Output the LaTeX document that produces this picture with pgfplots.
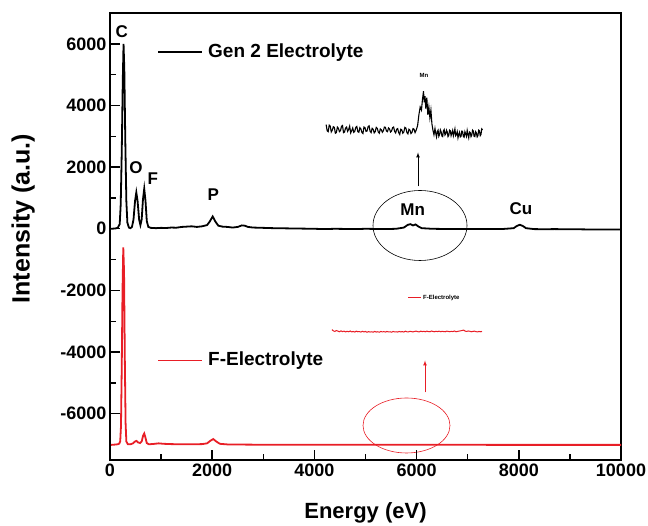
\documentclass[border=0pt]{standalone}
\usepackage{fontspec}
\setmainfont{Liberation Sans}
\usepackage{pgfplots}
\pgfplotsset{compat=1.18}
\definecolor{origred}{RGB}{232,30,38}
\newcommand{\fs}[1]{\fontsize{#1}{#1}\selectfont\bfseries}

\begin{document}
\begin{tikzpicture}
\useasboundingbox (-110pt,-66pt) rectangle (538pt,460pt);
% annotations, placed in the axis frame (0.0511 pt/eV, 0.030828 pt/count from -7500)
\draw[black, line width=1.8pt] (48.0pt,407.8pt) -- (91.7pt,407.8pt);
\node[anchor=west, inner sep=0pt, font=\fs{19}] at (98.0pt,407.8pt) {Gen 2 Electrolyte};
\draw[origred, line width=1.8pt] (48.0pt,99.5pt) -- (91.7pt,99.5pt);
\node[anchor=west, inner sep=0pt, font=\fs{19}] at (98.0pt,99.5pt) {F-Electrolyte};
\draw[origred, line width=0.6pt] (298.0pt,162.5pt) -- (311.0pt,162.5pt);
\node[anchor=west, inner sep=0pt, font=\fs{6}] at (313.0pt,162.5pt) {F-Electrolyte};
\node[font=\fs{6}] at (314.0pt,384.5pt) {Mn};
\node[font=\fs{17}] at (11.7pt,428.8pt) {C};
\node[font=\fs{17}] at (26.0pt,292.8pt) {O};
\node[font=\fs{17}] at (42.7pt,281.2pt) {F};
\node[font=\fs{17}] at (103.3pt,265.2pt) {P};
\node[font=\fs{17}] at (302.7pt,250.2pt) {Mn};
\node[font=\fs{17}] at (411.0pt,251.2pt) {Cu};
\draw[black, line width=0.6pt] (310.0pt,234.5pt) ellipse [x radius=47pt, y radius=35pt];
\draw[origred, line width=0.6pt] (296.5pt,34.5pt) ellipse [x radius=43.5pt, y radius=27.5pt];
\draw[black, line width=0.7pt, ->, >=latex] (308.0pt,273.5pt) -- (308.0pt,307.5pt);
\draw[origred, line width=0.7pt, ->, >=latex] (315.0pt,67.5pt) -- (315.0pt,99.5pt);
\begin{axis}[
  at={(0pt,0pt)}, anchor=south west,
  scale only axis, width=511pt, height=447pt,
  xmin=0, xmax=10000, ymin=-7500, ymax=7000,
  xtick={0,2000,...,10000}, minor xtick={1000,3000,...,9000},
  ytick={-6000,-4000,...,6000}, minor ytick={-7000,-5000,...,5000},
  xtick pos=bottom, ytick pos=left, xtick align=inside, ytick align=inside,
  major tick length=10pt, minor tick length=6pt,
  major tick style={line width=1.4pt, black},
  minor tick style={line width=1.4pt, black},
  axis line style={line width=1.6pt},
  scaled ticks=false,
  /pgf/number format/assume math mode=true,
  /pgf/number format/1000 sep={},
  tick label style={font=\fs{18}},
  xlabel={Energy (eV)}, ylabel={Intensity (a.u.)},
  xlabel style={font=\fs{22}, at={(axis description cs:0.5,-0.1186)}, anchor=center},
  ylabel style={font=\fs{25}, at={(axis description cs:-0.170,0.54)}, anchor=center},
]
% Gen 2 electrolyte spectrum
\addplot[black, line width=1.8pt] coordinates {
(20,0)(100,10)(150,30)(190,150)(210,800)(230,2500)(250,4800)(265,6000)(280,5200)
(300,2800)(320,900)(340,200)(370,40)(400,20)(430,60)(460,300)(490,900)(515,1180)
(540,900)(570,300)(595,120)(620,300)(645,950)(670,1300)(695,900)(720,250)(750,60)
(800,30)(900,20)(1000,30)(1100,25)(1200,40)(1300,35)(1400,60)(1500,70)(1600,80)
(1700,60)(1800,80)(1900,120)(1950,230)(2010,400)(2060,240)(2120,100)(2200,70)
(2300,60)(2400,40)(2500,60)(2580,110)(2640,100)(2700,60)(2800,40)(3000,30)
(3200,20)(3400,15)(3600,10)(3800,5)(4000,0)(4200,-10)(4400,0)(4600,-5)(4800,-10)
(5000,0)(5200,-5)(5400,-10)(5600,0)(5750,40)(5830,130)(5880,150)(5930,110)
(5980,140)(6030,80)(6100,20)(6300,0)(6500,-5)(6700,-10)(6900,-5)(7100,-5)
(7300,-10)(7500,-10)(7700,-5)(7900,20)(7960,90)(8020,130)(8080,90)(8140,20)
(8300,-10)(8500,-15)(8700,-10)(8900,-15)(9100,-15)(9300,-20)(9500,-20)(9700,-20)
(9900,-20)(10000,-20)
};
% F-electrolyte spectrum
\addplot[origred, line width=1.8pt] coordinates {
(20,-7010)(100,-7000)(150,-6990)(180,-6970)(200,-6900)(215,-6400)(230,-4500)
(245,-2000)(260,-600)(275,-1400)(290,-4200)(305,-6300)(320,-6900)(350,-6990)
(400,-6990)(450,-6960)(490,-6900)(520,-6880)(550,-6930)(590,-6950)(620,-6900)
(650,-6700)(670,-6640)(690,-6750)(720,-6950)(760,-6990)(850,-6980)(950,-6960)
(1050,-6975)(1200,-6985)(1400,-6990)(1600,-6990)(1800,-6985)(1900,-6960)
(1960,-6880)(2020,-6820)(2080,-6900)(2150,-6975)(2300,-6995)(2600,-7000)
(3000,-7005)(4000,-7005)(5000,-7008)(6000,-7005)(7000,-7008)(8000,-7010)
(9000,-7010)(10000,-7010)
};
% Mn inset (Gen 2)
\addplot[black, line width=1.1pt] coordinates {
(4230,3380)(4250,3180)(4270,3150)(4290,3360)(4310,3330)(4330,3140)(4350,3200)
(4370,3310)(4390,3290)(4410,3100)(4430,3120)(4450,3300)(4470,3260)(4490,3150)
(4510,3180)(4530,3320)(4550,3350)(4570,3120)(4590,3140)(4610,3270)(4630,3300)
(4650,3160)(4670,3220)(4690,3330)(4710,3110)(4730,3180)(4750,3270)(4770,3130)
(4790,3160)(4810,3290)(4830,3320)(4850,3150)(4870,3130)(4890,3280)(4910,3240)
(4930,3120)(4950,3090)(4970,3300)(4990,3280)(5010,3160)(5030,3170)(5050,3310)
(5070,3340)(5090,3160)(5110,3120)(5130,3260)(5150,3230)(5170,3110)(5190,3150)
(5210,3290)(5230,3260)(5250,3140)(5270,3100)(5290,3240)(5310,3210)(5330,3130)
(5350,3180)(5370,3300)(5390,3290)(5410,3170)(5430,3150)(5450,3270)(5470,3240)
(5490,3140)(5510,3170)(5530,3280)(5550,3300)(5570,3160)(5590,3110)(5610,3230)
(5630,3250)(5650,3120)(5670,3060)(5690,3230)(5710,3210)(5730,3100)(5750,3140)
(5770,3290)(5790,3270)(5810,3120)(5830,3080)(5850,3230)(5870,3200)(5890,3090)
(5910,3130)(5930,3250)(5950,3230)(5970,3120)(5990,3190)(6020,3350)(6045,3700)
(6070,3950)(6095,3850)(6115,4200)(6135,4460)(6150,4100)(6165,4300)(6180,3900)
(6200,4250)(6220,3700)(6240,3950)(6260,3600)(6280,3850)(6300,3400)(6320,3200)
(6340,3050)(6360,3250)(6375,3100)(6390,2980)(6405,3150)(6420,3200)(6435,3000)
(6450,3060)(6465,3210)(6480,3150)(6495,3010)(6510,2990)(6525,3180)(6540,3220)
(6555,3040)(6570,3080)(6585,3200)(6600,3140)(6615,2990)(6630,3030)(6645,3200)
(6660,3180)(6675,3020)(6690,3100)(6705,3190)(6720,3020)(6735,3120)(6750,3240)
(6765,3020)(6780,3060)(6795,3150)(6810,2950)(6825,3060)(6840,3130)(6855,2980)
(6870,3000)(6885,3170)(6900,3160)(6915,2990)(6930,2970)(6945,3150)(6960,3080)
(6975,3000)(6990,3190)(7005,3060)(7020,2950)(7035,3140)(7050,3120)(7065,2990)
(7080,3040)(7095,3200)(7110,3170)(7125,3000)(7140,2990)(7155,3150)(7170,3110)
(7185,2980)(7200,3020)(7215,3200)(7230,3180)(7245,3020)(7260,3060)(7275,3240)
(7290,3210)
};
% F-electrolyte inset
\addplot[origred, line width=1pt] coordinates {
(4344,-3270)(4370,-3310)(4400,-3330)(4430,-3300)(4460,-3320)(4490,-3340)
(4520,-3310)(4550,-3335)(4580,-3320)(4610,-3345)(4640,-3325)(4670,-3340)
(4700,-3315)(4730,-3345)(4760,-3330)(4790,-3350)(4820,-3320)(4850,-3340)
(4880,-3335)(4910,-3350)(4940,-3325)(4970,-3345)(5000,-3330)(5030,-3355)
(5060,-3335)(5090,-3350)(5120,-3340)(5150,-3355)(5180,-3330)(5210,-3350)
(5240,-3340)(5270,-3355)(5300,-3330)(5330,-3345)(5360,-3335)(5390,-3350)
(5420,-3330)(5450,-3345)(5480,-3340)(5510,-3355)(5540,-3330)(5570,-3345)
(5600,-3340)(5630,-3350)(5660,-3330)(5690,-3345)(5720,-3335)(5750,-3350)
(5780,-3320)(5810,-3340)(5840,-3345)(5870,-3325)(5900,-3335)(5930,-3345)
(5960,-3330)(5990,-3320)(6020,-3335)(6050,-3345)(6080,-3320)(6110,-3335)
(6140,-3325)(6170,-3340)(6200,-3320)(6230,-3335)(6260,-3340)(6290,-3315)
(6320,-3330)(6350,-3340)(6380,-3325)(6410,-3335)(6440,-3320)(6470,-3340)
(6500,-3325)(6530,-3335)(6560,-3340)(6590,-3320)(6620,-3330)(6650,-3340)
(6680,-3325)(6710,-3335)(6740,-3315)(6770,-3340)(6800,-3330)(6830,-3320)
(6860,-3310)(6890,-3300)(6920,-3285)(6950,-3320)(6980,-3330)(7010,-3315)
(7040,-3325)(7070,-3340)(7100,-3330)(7130,-3320)(7160,-3335)(7190,-3345)
(7220,-3330)(7250,-3340)(7280,-3330)
};
\end{axis}
\end{tikzpicture}
\end{document}
